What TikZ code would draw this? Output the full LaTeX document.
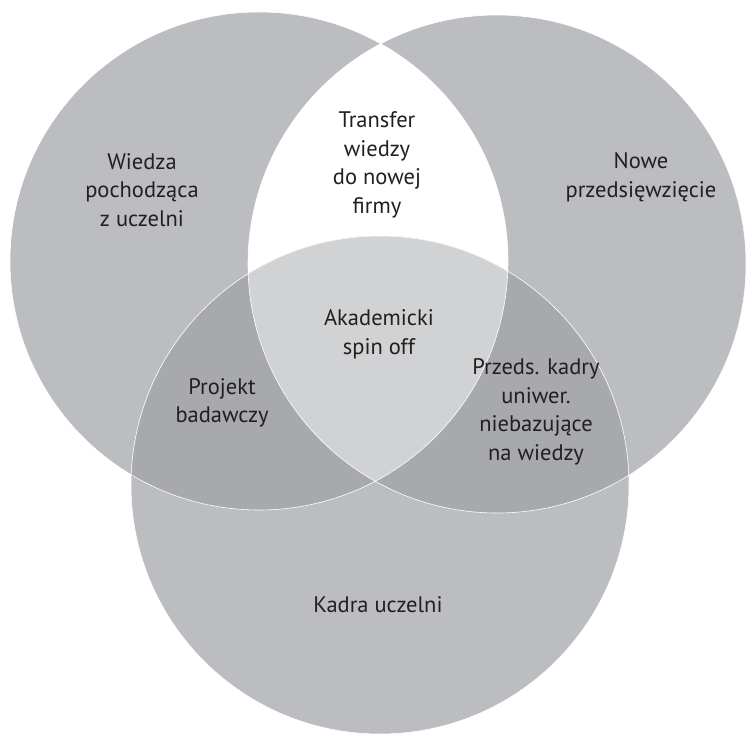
\documentclass[tikz,border=0pt]{standalone}
\usepackage{fontspec}
\setmainfont{PT Sans}
\definecolor{base}{HTML}{BCBDC0}
\definecolor{pair}{HTML}{A8A9AC}
\definecolor{core}{HTML}{D1D2D4}
\definecolor{ink}{HTML}{231F20}
\begin{document}
\begin{tikzpicture}[x=1pt,y=-1pt,
  lbl/.style={align=center,text=ink,font=\fontsize{22.5}{28.5}\selectfont,inner sep=0pt},
  rim/.style={draw=white,line width=0.6pt}]
\useasboundingbox (0,0) rectangle (748,734);
\coordinate (L) at (259,261);
\coordinate (R) at (497,264);
\coordinate (B) at (380,485);
\def\rr{249pt}
% single regions
\fill[base] (L) circle[radius=\rr];
\fill[base] (R) circle[radius=\rr];
\fill[base] (B) circle[radius=\rr];
% pairwise
\begin{scope}
  \clip (L) circle[radius=\rr];
  \fill[white] (R) circle[radius=\rr];
  \fill[pair] (B) circle[radius=\rr];
\end{scope}
\begin{scope}
  \clip (R) circle[radius=\rr];
  \fill[pair] (B) circle[radius=\rr];
\end{scope}
% triple
\begin{scope}
  \clip (L) circle[radius=\rr];
  \clip (R) circle[radius=\rr];
  \fill[core] (B) circle[radius=\rr];
\end{scope}
% outlines
\draw[rim] (L) circle[radius=\rr];
\draw[rim] (R) circle[radius=\rr];
\draw[rim] (B) circle[radius=\rr];
% labels
\node[lbl] (wiedza) at (142,190) {Wiedza\\pochodząca\\z uczelni};
\node[lbl] (transfer) at (377,165) {Transfer\\wiedzy\\do nowej\\firmy};
\node[lbl] (nowe) at (641,177) {Nowe\\przedsięwzięcie};
\node[lbl] (spin) at (379,334) {Akademicki\\spin off};
\node[lbl] (projekt) at (222,403) {Projekt\\badawczy};
\node[lbl] (przeds) at (536,412) {Przeds. kadry\\uniwer.\\niebazujące\\na wiedzy};
\node[lbl] (kadra) at (378,605) {Kadra uczelni};
\end{tikzpicture}
\end{document}
